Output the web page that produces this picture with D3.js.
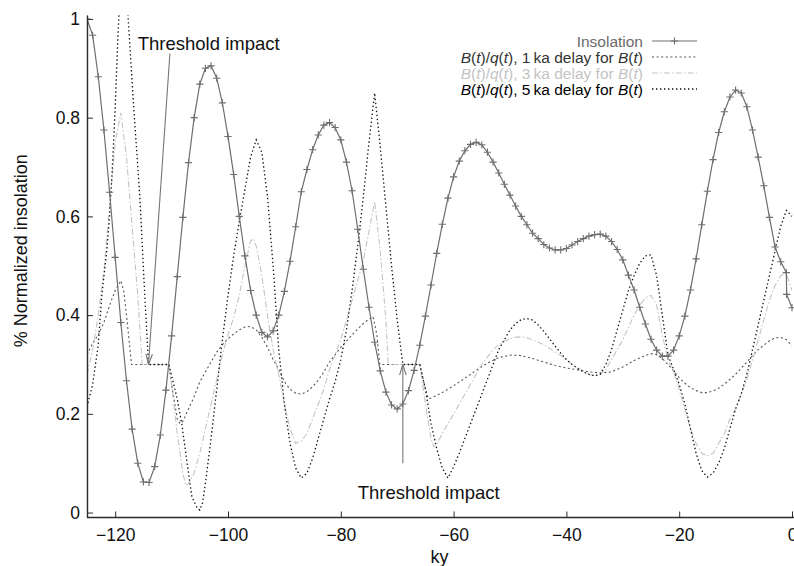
<!DOCTYPE html>
<html>
<head>
<meta charset="utf-8">
<script src="https://d3js.org/d3.v7.min.js"></script>
<style>
    body { margin: 0; background: #fff; }
    svg { display: block; font-family: "Liberation Sans", Arial, sans-serif; }
</style>
</head>
<body>
<script>
var w = 794, h = 566;

// insolation, one value per ky (plus the two end samples)
var insolKy = d3.range(-125, 0).concat([-0.95, 0]);
var insolation = [
    1.000, 0.967, 0.883, 0.775, 0.649, 0.517, 0.385, 0.267, 0.169, 0.100,
    0.062, 0.061, 0.093, 0.157, 0.248, 0.358, 0.478, 0.598, 0.709, 0.800,
    0.868, 0.900, 0.905, 0.880, 0.830, 0.762, 0.685, 0.600, 0.520, 0.450,
    0.400, 0.365, 0.356, 0.368, 0.400, 0.448, 0.509, 0.579, 0.650, 0.695,
    0.735, 0.765, 0.785, 0.790, 0.780, 0.755, 0.710, 0.652, 0.574, 0.493,
    0.416, 0.345, 0.287, 0.244, 0.218, 0.210, 0.220, 0.247, 0.288, 0.339,
    0.398, 0.461, 0.525, 0.584, 0.637, 0.680, 0.712, 0.733, 0.746, 0.750,
    0.745, 0.730, 0.710, 0.688, 0.665, 0.643, 0.621, 0.600, 0.583, 0.566,
    0.555, 0.543, 0.536, 0.532, 0.532, 0.535, 0.542, 0.549, 0.555, 0.560,
    0.563, 0.564, 0.560, 0.549, 0.533, 0.512, 0.481, 0.451, 0.416, 0.382,
    0.351, 0.329, 0.317, 0.317, 0.329, 0.358, 0.398, 0.451, 0.514, 0.583,
    0.651, 0.715, 0.770, 0.812, 0.842, 0.856, 0.850, 0.822, 0.775, 0.720,
    0.662, 0.598, 0.538, 0.508, 0.486, 0.442, 0.415
];

// B(t)/q(t), 1ka delay  [ky, value]
var bq1 = [
    [-125,0.32],[-124,0.343],[-123,0.36],[-122,0.385],[-121,0.42],[-120,0.45],[-119,0.47],[-118.5,0.45],[-118,0.40],[-117.1,0.30],
    [-110.5,0.30],[-110,0.26],[-109,0.19],[-108.5,0.18],[-108,0.185],[-107,0.21],[-106,0.235],[-105,0.265],[-104,0.285],[-103,0.305],
    [-102,0.325],[-101,0.34],[-100,0.352],[-99,0.362],[-98,0.37],[-97,0.376],[-96,0.377],[-95,0.37],[-94,0.355],[-93,0.335],
    [-92,0.31],[-91,0.29],[-90,0.265],[-89,0.25],[-88,0.242],[-87,0.24],[-86,0.245],[-85,0.255],[-84,0.268],[-83,0.285],
    [-82,0.305],[-81,0.32],[-80,0.335],[-79,0.347],[-78,0.36],[-77,0.372],[-76,0.383],[-75,0.392],[-74.3,0.397],[-73.6,0.36],[-73.1,0.30],
    [-66,0.30],[-65.2,0.26],[-64.5,0.231],[-64,0.232],[-62,0.243],[-60,0.257],[-58,0.272],[-56,0.288],[-54,0.303],[-52,0.314],
    [-50,0.319],[-48,0.318],[-46,0.312],[-44,0.305],[-42,0.298],[-40,0.293],[-38,0.289],[-36,0.285],[-34,0.283],[-32,0.285],
    [-30,0.295],[-28,0.308],[-26,0.318],[-25,0.322],[-24,0.32],[-23,0.312],[-22,0.30],[-21,0.287],[-20,0.273],[-19,0.262],
    [-18,0.253],[-17,0.247],[-16,0.243],[-15,0.243],[-14,0.246],[-13,0.252],[-12,0.26],[-10,0.28],[-8,0.305],[-6,0.33],
    [-4,0.348],[-3,0.354],[-2,0.355],[-1,0.35],[0,0.338]
];

// B(t)/q(t), 3ka delay
var bq3 = [
    [-125,0.28],[-124,0.33],[-123,0.40],[-122,0.49],[-121,0.62],[-120,0.75],[-119,0.81],[-118,0.72],[-117,0.58],[-116,0.44],[-115.2,0.30],
    [-110.5,0.30],[-110,0.26],[-109,0.16],[-108,0.08],[-107.5,0.055],[-107,0.058],[-106,0.08],[-105,0.12],[-104,0.17],[-103,0.22],
    [-102,0.27],[-101,0.32],[-100,0.36],[-99,0.395],[-98,0.44],[-97,0.50],[-96,0.55],[-95.5,0.555],[-95,0.54],[-94,0.48],
    [-93,0.40],[-92,0.33],[-91,0.28],[-90,0.22],[-89,0.17],[-88,0.14],[-87,0.145],[-86,0.16],[-85,0.19],[-84,0.22],
    [-83,0.25],[-82,0.29],[-81,0.32],[-80,0.35],[-79,0.39],[-78,0.43],[-77,0.47],[-76,0.51],[-75,0.57],[-74,0.63],
    [-73,0.53],[-72,0.39],[-71.6,0.30],[-66,0.30],[-65,0.22],[-64,0.15],[-63.5,0.133],[-63,0.138],[-62,0.16],[-61,0.18],
    [-60,0.20],[-59,0.22],[-58,0.24],[-57,0.26],[-56,0.28],[-55,0.30],[-54,0.315],[-53,0.33],[-52,0.34],[-51,0.347],
    [-50,0.352],[-49,0.355],[-48,0.356],[-47,0.354],[-46,0.35],[-45,0.345],[-44,0.34],[-43,0.333],[-42,0.325],[-41,0.318],
    [-40,0.31],[-39,0.30],[-38,0.293],[-37,0.286],[-36,0.28],[-35,0.277],[-34,0.28],[-33,0.29],[-32,0.31],[-31,0.33],
    [-30,0.35],[-29,0.375],[-28,0.40],[-27,0.42],[-26,0.435],[-25,0.44],[-24,0.42],[-23,0.36],[-22,0.31],[-21,0.285],
    [-20,0.25],[-19,0.21],[-18,0.17],[-17,0.14],[-16,0.12],[-15,0.115],[-14,0.12],[-13,0.14],[-12,0.16],[-11,0.19],
    [-10,0.21],[-9,0.24],[-8,0.27],[-7,0.31],[-6,0.35],[-5,0.39],[-4,0.43],[-3,0.46],[-2,0.48],[-1,0.485],[0,0.45]
];

// B(t)/q(t), 5ka delay
var bq5 = [
    [-125,0.214],[-124,0.26],[-123,0.34],[-122.4,0.437],[-121.5,0.53],[-121,0.60],[-120.5,0.70],[-120,0.82],[-119.5,0.97],[-119,1.08],
    [-118.5,1.12],[-118,1.08],[-117.7,1.0],[-116.8,0.836],[-115.6,0.633],[-114.8,0.45],[-114.1,0.30],
    [-110.5,0.30],[-110.3,0.292],[-109,0.23],[-108.2,0.18],[-107,0.08],[-106.4,0.032],[-105.5,0.01],[-105,0.005],[-104.5,0.02],
    [-104,0.06],[-103,0.15],[-102,0.25],[-101,0.35],[-100,0.44],[-99,0.52],[-98,0.59],[-97,0.655],[-96,0.72],[-95,0.755],
    [-94,0.73],[-93,0.64],[-92,0.50],[-91,0.33],[-90,0.22],[-89,0.14],[-88,0.09],[-87,0.07],[-86,0.08],[-85,0.11],
    [-84,0.15],[-83,0.19],[-82,0.23],[-81,0.265],[-80,0.31],[-79,0.37],[-78,0.45],[-77,0.54],[-76,0.64],[-75,0.75],
    [-74,0.85],[-73,0.74],[-72,0.62],[-71,0.50],[-70,0.39],[-69,0.30],[-66,0.30],[-65,0.25],[-64,0.18],[-63,0.13],
    [-62,0.09],[-61,0.07],[-60,0.093],[-59,0.12],[-58,0.15],[-57,0.18],[-56,0.21],[-55,0.24],[-54,0.27],[-53,0.30],
    [-52,0.33],[-51,0.35],[-50,0.37],[-49,0.383],[-48,0.391],[-47,0.393],[-46,0.39],[-45,0.38],[-44,0.367],[-43,0.352],
    [-42,0.337],[-41,0.323],[-40,0.31],[-39,0.30],[-38,0.292],[-37,0.285],[-36,0.28],[-35,0.277],[-34,0.28],[-33,0.30],
    [-32,0.33],[-31,0.37],[-30,0.41],[-29,0.45],[-28,0.48],[-27,0.505],[-26,0.52],[-25,0.522],[-24,0.48],[-23,0.40],
    [-22,0.32],[-21,0.29],[-20,0.26],[-19,0.22],[-18,0.17],[-17,0.12],[-16,0.085],[-15,0.072],[-14,0.08],[-13,0.10],
    [-12,0.13],[-11,0.17],[-10,0.21],[-9,0.24],[-8,0.28],[-7,0.33],[-6,0.38],[-5,0.43],[-4,0.48],[-3,0.53],
    [-2,0.58],[-1,0.612],[0,0.60]
];

var xTicks = [-120, -100, -80, -60, -40, -20, 0];
var yTicks = [0, 0.2, 0.4, 0.6, 0.8, 1];
var legendLabels = ['Insolation', '1', '3', '5'];

var xScale = d3.scaleLinear().domain([-125, 0]).range([87, 792]);
var yScale = d3.scaleLinear().domain([-0.01, 1.008]).range([517.5, 15]);

var svg = d3.select('body').append('svg')
    .attr('width', w)
    .attr('height', h);

svg.append('defs').append('clipPath').attr('id', 'plotclip')
    .append('rect')
    .attr('x', xScale(-125))
    .attr('y', yScale(1.008))
    .attr('width', w - xScale(-125))
    .attr('height', yScale(-0.01) - yScale(1.008));

var styles = {
    ins: { stroke: '#6e6e6e', width: 1.2, dash: null },
    bq1: { stroke: '#555', width: 1.1, dash: '2,2.6' },
    bq3: { stroke: '#c4c4c4', width: 1.1, dash: '6,2.2,1.5,2.2' },
    bq5: { stroke: '#111', width: 1.3, dash: '1.4,2.6' }
};

var lineFunc = d3.line()
    .x(function (d) { return xScale(d[0]) })
    .y(function (d) { return yScale(d[1]) });

var plot = svg.append('g').attr('clip-path', 'url(#plotclip)');

function drawSeries(data, st) {
    plot.append('path')
        .attr('d', lineFunc(data))
        .attr('fill', 'none')
        .attr('stroke', st.stroke)
        .attr('stroke-width', st.width)
        .attr('stroke-dasharray', st.dash);
}

drawSeries(bq1, styles.bq1);
drawSeries(bq3, styles.bq3);
drawSeries(bq5, styles.bq5);

var insData = insolKy.map(function (k, i) { return [k, insolation[i]] });
drawSeries(insData, styles.ins);

function plus(x, y, s) {
    return 'M' + (x - s) + ',' + y + 'h' + (2 * s) + 'M' + x + ',' + (y - s) + 'v' + (2 * s);
}

plot.selectAll('.mk').data(insData).enter().append('path')
    .attr('d', function (d) { return plus(xScale(d[0]), yScale(d[1]), 3.6) })
    .attr('stroke', '#6e6e6e')
    .attr('stroke-width', 1.1)
    .attr('fill', 'none');

// axes
var xAxis = d3.axisBottom(xScale)
    .tickValues(xTicks)
    .tickFormat(d3.format('~g'))
    .tickSizeInner(-6)
    .tickSizeOuter(0)
    .tickPadding(11);

var yAxis = d3.axisLeft(yScale)
    .tickValues(yTicks)
    .tickFormat(d3.format('~g'))
    .tickSizeInner(-6)
    .tickSizeOuter(0)
    .tickPadding(7);

var gx = svg.append('g').attr('transform', 'translate(0,' + yScale(-0.01) + ')').call(xAxis);
var gy = svg.append('g').attr('transform', 'translate(' + xScale(-125) + ',0)').call(yAxis);

gx.select('.domain').attr('d', 'M' + xScale(-125) + ',0H' + w);

[gx, gy].forEach(function (g) {
    g.select('.domain').attr('stroke', '#2a2a2a').attr('stroke-width', 1.4);
    g.selectAll('.tick line').attr('stroke', '#2a2a2a').attr('stroke-width', 1);
    g.selectAll('.tick text')
        .attr('fill', '#111')
        .style('font-size', '17.5px')
        .style('font-family', '"Liberation Sans", Arial, sans-serif');
});

svg.append('text')
    .attr('x', (xScale(-125) + xScale(0)) / 2)
    .attr('y', 563)
    .attr('text-anchor', 'middle')
    .style('font-size', '18px')
    .attr('fill', '#111')
    .text('ky');

svg.append('text')
    .attr('transform', 'translate(26.5,' + ((yScale(0) + yScale(1)) / 2 - 15) + ') rotate(-90)')
    .attr('text-anchor', 'middle')
    .style('font-size', '18px')
    .attr('fill', '#111')
    .text('% Normalized insolation');

// threshold annotations
var notes = [
    { tx: -116.0, ty: 0.937, from: [-110.3, 0.93], to: [-114.1, 0.3] },
    { tx: -77.0, ty: 0.027, from: [-69.0, 0.10], to: [-69.0, 0.3] }
];

notes.forEach(function (n) {
    svg.append('text')
        .attr('x', xScale(n.tx))
        .attr('y', yScale(n.ty))
        .style('font-size', '18.5px')
        .attr('fill', '#111')
        .text('Threshold impact');
    var x1 = xScale(n.from[0]), y1 = yScale(n.from[1]);
    var x2 = xScale(n.to[0]), y2 = yScale(n.to[1]);
    svg.append('line')
        .attr('x1', x1).attr('y1', y1).attr('x2', x2).attr('y2', y2)
        .attr('stroke', '#777').attr('stroke-width', 1.1);
    var a = Math.atan2(y1 - y2, x1 - x2);
    [-0.3, 0.3].forEach(function (da) {
        svg.append('line')
            .attr('x1', x2).attr('y1', y2)
            .attr('x2', x2 + 11 * Math.cos(a + da))
            .attr('y2', y2 + 11 * Math.sin(a + da))
            .attr('stroke', '#777').attr('stroke-width', 1.1);
    });
});

// legend
var legendRows = [
    { key: 'ins', y: 41, color: '#6a6a6a' },
    { key: 'bq1', y: 57, color: '#333' },
    { key: 'bq3', y: 73, color: '#c4c4c4' },
    { key: 'bq5', y: 89, color: '#000' }
];

legendRows.forEach(function (r, i) {
    var t = svg.append('text')
        .attr('x', 643)
        .attr('y', r.y + 5.5)
        .attr('text-anchor', 'end')
        .style('font-size', '15.5px')
        .attr('fill', r.color);
    if (i === 0) {
        t.text(legendLabels[0]);
    } else {
        var parts = [
            ['B', true], ['(', false], ['t', true], [')/', false], ['q', true], ['(', false], ['t', true],
            ['), ' + legendLabels[i] + '\u2009ka delay for ', false], ['B', true], ['(', false], ['t', true], [')', false]
        ];
        parts.forEach(function (p) {
            t.append('tspan').style('font-style', p[1] ? 'italic' : 'normal').text(p[0]);
        });
    }
    var st = styles[r.key];
    svg.append('line')
        .attr('x1', 652).attr('x2', 697)
        .attr('y1', r.y).attr('y2', r.y)
        .attr('stroke', st.stroke)
        .attr('stroke-width', st.width)
        .attr('stroke-dasharray', st.dash);
    if (i === 0) {
        svg.append('path')
            .attr('d', plus(674.5, r.y, 3.6))
            .attr('stroke', st.stroke)
            .attr('stroke-width', 1.1);
    }
});
</script>
</body>
</html>
